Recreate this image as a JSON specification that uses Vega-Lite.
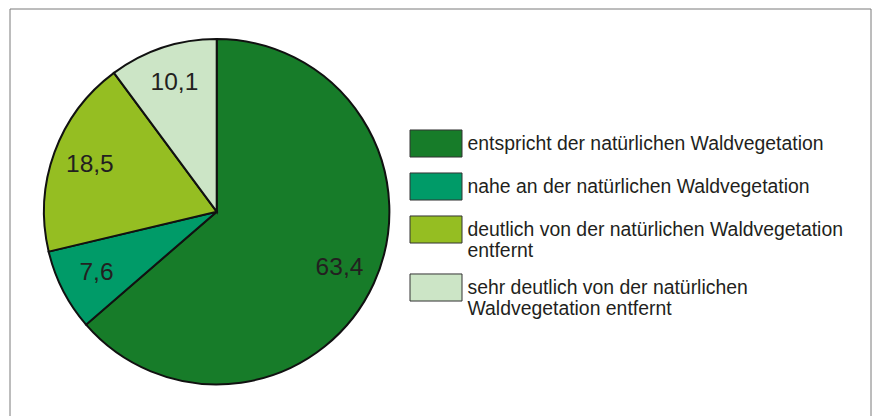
{
  "$schema": "https://vega.github.io/schema/vega-lite/v6.json",
  "autosize": {"type": "none"},
  "padding": {"left": 10, "top": 9, "right": 5, "bottom": -1},
  "width": 861,
  "height": 408,
  "background": "white",
  "config": {
    "view": {"stroke": null},
    "locale": {"number": {"decimal": ",", "thousands": ".", "grouping": [3], "currency": ["", " €"]}}
  },
  "layer": [
    {
      "data": {"values": [{"rahmen": 1}]},
      "mark": {"type": "rect", "fill": null, "stroke": "#7a7a7a", "strokeWidth": 1},
      "encoding": {
        "x": {"value": 0},
        "x2": {"value": "width"},
        "y": {"value": 0},
        "y2": {"value": "height"}
      }
    },
    {
      "data": {
        "values": [
          {"kategorie": "entspricht der natürlichen Waldvegetation", "anteil": 63.4, "ord": 1},
          {"kategorie": "nahe an der natürlichen Waldvegetation", "anteil": 7.6, "ord": 2},
          {"kategorie": "deutlich von der natürlichen Waldvegetation entfernt", "anteil": 18.5, "ord": 3},
          {"kategorie": "sehr deutlich von der natürlichen Waldvegetation entfernt", "anteil": 10.1, "ord": 4}
        ]
      },
      "encoding": {
        "theta": {"field": "anteil", "type": "quantitative", "stack": true},
        "order": {"field": "ord", "type": "quantitative"},
        "color": {
          "field": "kategorie",
          "type": "nominal",
          "scale": {
            "domain": [
              "entspricht der natürlichen Waldvegetation",
              "nahe an der natürlichen Waldvegetation",
              "deutlich von der natürlichen Waldvegetation entfernt",
              "sehr deutlich von der natürlichen Waldvegetation entfernt"
            ],
            "range": ["#177c29", "#009b68", "#95be22", "#cce5c6"]
          },
          "legend": {
            "title": null,
            "orient": "none",
            "legendX": 399.5,
            "legendY": 108,
            "padding": 0,
            "symbolType": "M-1,-0.52H1V0.52H-1Z",
            "symbolSize": 2704,
            "symbolStrokeColor": "#333333",
            "symbolStrokeWidth": 1,
            "symbolOpacity": 1,
            "rowPadding": -3,
            "labelOffset": 5,
            "labelFont": "Liberation Sans",
            "labelFontSize": 19.4,
            "labelLineHeight": 18,
            "labelColor": "#231f20",
            "labelLimit": 500,
            "labelExpr": "datum.label == 'deutlich von der natürlichen Waldvegetation entfernt' ? ['deutlich von der natürlichen Waldvegetation', 'entfernt'] : datum.label == 'sehr deutlich von der natürlichen Waldvegetation entfernt' ? ['sehr deutlich von der natürlichen', 'Waldvegetation entfernt'] : datum.label"
          }
        }
      },
      "layer": [
        {
          "mark": {"type": "arc", "outerRadius": 172.7, "x": 206.7, "y": 202.7, "stroke": "#111111", "strokeWidth": 2}
        },
        {
          "mark": {"type": "text", "radius": 135, "x": 206.7, "y": 202.7, "font": "Liberation Sans", "fontSize": 24.5, "fill": "#231f20"},
          "encoding": {
            "text": {"field": "anteil", "type": "quantitative", "format": ".1f"},
            "color": {"value": "#231f20"}
          }
        }
      ]
    }
  ]
}
